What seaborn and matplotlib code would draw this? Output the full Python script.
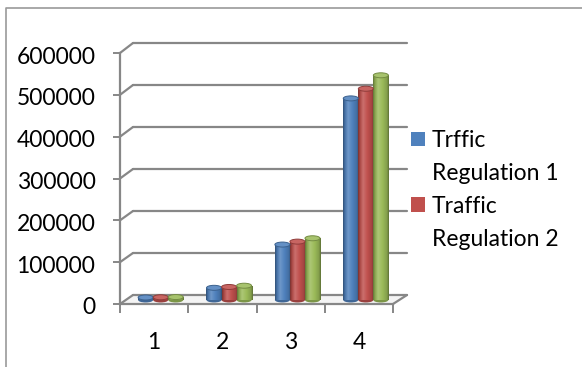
import numpy as np
import pandas as pd
import matplotlib
matplotlib.use("Agg")
import matplotlib.pyplot as plt
import seaborn as sns
from matplotlib.patches import Ellipse, Polygon, Patch
from matplotlib.lines import Line2D
from matplotlib.colors import to_rgb
from matplotlib.transforms import ScaledTranslation

# ---- data ----
categories = ["1", "2", "3", "4"]
series_labels = ["Trffic Regulation 1", "Traffic Regulation 2", "Traffic Regulation 3"]
reg1 = [6000, 29000, 132000, 480000]
reg2 = [6500, 31000, 139000, 503000]
reg3 = [7000, 34000, 147000, 535000]
y_ticks = [0, 100000, 200000, 300000, 400000, 500000, 600000]
colors = ["#4F81BD", "#C0504D", "#9BBB59"]

df = pd.DataFrame({
    "category": categories * 3,
    "series": [series_labels[0]] * 4 + [series_labels[1]] * 4 + [series_labels[2]] * 4,
    "value": reg1 + reg2 + reg3,
})

sns.set_theme(style="white")
plt.rcParams["font.family"] = ["Lato", "DejaVu Sans"]
plt.rcParams["text.color"] = "black"

GRID = "#878787"
FS = 16.5
W, H = 582, 367
fig = plt.figure(figsize=(W / 100, H / 100), dpi=100)
fig.patch.set_facecolor("white")


def box(x0, x1, y_top, y_bottom):
    return [x0 / W, 1 - y_bottom / H, (x1 - x0) / W, (y_bottom - y_top) / H]


# back wall (gridlines), middle plane (columns), front plane (axes + labels)
ax_back = fig.add_axes(box(133, 407, 43, 295))
ax_mid = fig.add_axes(box(126.5, 400, 48, 300))
ax_front = fig.add_axes(box(120, 393, 53, 304))

YMAX = y_ticks[-1]
for ax in (ax_back, ax_mid, ax_front):
    ax.set_facecolor("none")
    ax.set_xlim(-0.5, len(categories) - 0.5)
    ax.set_ylim(0, YMAX)
    for s in ax.spines.values():
        s.set_visible(False)

# back wall gridlines
ax_back.set_xticks([])
ax_back.set_yticks([])
for v in y_ticks:
    ax_back.axhline(v, color=GRID, lw=1.6, clip_on=False, zorder=0)

# columns
sns.barplot(data=df, x="category", y="value", hue="series", palette=colors,
            width=0.66, ax=ax_mid, legend=False, linewidth=0, saturation=1)
ax_mid.set_xlim(-0.5, len(categories) - 0.5)
ax_mid.set_ylim(0, YMAX)
ax_mid.set_xlabel("")
ax_mid.set_ylabel("")
ax_mid.set_xticks([])
ax_mid.set_yticks([])

px_to_data = YMAX / (ax_mid.get_position().height * H)
cap_h = 5 * px_to_data


def shade(rgb, f):
    return tuple(np.clip(np.array(rgb) * f, 0, 1))


def tint(rgb, f):
    rgb = np.array(rgb)
    return tuple(rgb + (1 - rgb) * f)


stops = [0.0, 0.12, 0.32, 0.6, 0.88, 1.0]
bars = [p for p in ax_mid.patches]
for p in bars:
    base = to_rgb(p.get_facecolor())
    x0, w, h = p.get_x(), p.get_width(), p.get_height()
    ramp = [shade(base, 0.62), shade(base, 0.88), tint(base, 0.18),
            base, shade(base, 0.85), shade(base, 0.6)]
    t = np.linspace(0, 1, 80)
    grad = np.stack([np.interp(t, stops, [c[i] for c in ramp]) for i in range(3)], axis=-1)
    # rounded bottom of the cylinder
    ax_mid.add_patch(Ellipse((x0 + w / 2, 0), w, cap_h, facecolor=shade(base, 0.8),
                             edgecolor="none", clip_on=False, zorder=2))
    img = ax_mid.imshow(grad[np.newaxis, :, :], extent=(x0, x0 + w, 0, h),
                        aspect="auto", interpolation="bilinear", zorder=3)
    img.set_clip_path(p)
    p.set_zorder(2.5)
    # top cap
    ax_mid.add_patch(Ellipse((x0 + w / 2, h), w, cap_h, facecolor=tint(base, 0.12),
                             edgecolor=shade(base, 0.75), lw=0.7, clip_on=False, zorder=4))
ax_mid.set_xlim(-0.5, len(categories) - 0.5)
ax_mid.set_ylim(0, YMAX)

# front axes: value ticks and category ticks
ax_front.spines["left"].set_visible(True)
ax_front.spines["bottom"].set_visible(True)
for s in ("left", "bottom"):
    ax_front.spines[s].set_color(GRID)
    ax_front.spines[s].set_linewidth(1.6)
ax_front.set_yticks(y_ticks)
ax_front.set_yticklabels([str(v) for v in y_ticks])
ax_front.set_xticks(np.arange(len(categories) + 1) - 0.5)
ax_front.set_xticklabels([])
ax_front.set_xticks(np.arange(len(categories)), minor=True)
ax_front.set_xticklabels(categories, minor=True)
ax_front.tick_params(axis="y", which="major", direction="out", length=4.7, width=1.4,
                     color=GRID, labelsize=FS, labelcolor="black", pad=13, left=True)
ax_front.tick_params(axis="x", which="major", direction="out", length=6.5, width=1.4,
                     color=GRID, bottom=True)
ax_front.tick_params(axis="x", which="minor", length=0, labelsize=FS,
                     labelcolor="black", pad=20)
nudge = ScaledTranslation(0, -2 / 100, fig.dpi_scale_trans)
for lab in ax_front.get_yticklabels():
    lab.set_transform(lab.get_transform() + nudge)

# side-wall edges and floor joining the front plane to the back wall
to_fig = fig.transFigure.inverted()


def fpt(ax, x, y):
    return to_fig.transform(ax.transData.transform((x, y)))


xl, xr = -0.5, len(categories) - 0.5
floor = Polygon([fpt(ax_front, xl, 0), fpt(ax_front, xr, 0),
                 fpt(ax_back, xr, 0), fpt(ax_back, xl, 0)],
                closed=True, transform=fig.transFigure, facecolor="#f4f4f4",
                edgecolor="none", zorder=-1)
fig.add_artist(floor)
for v in y_ticks:
    a, b = fpt(ax_front, xl, v), fpt(ax_back, xl, v)
    fig.add_artist(Line2D([a[0], b[0]], [a[1], b[1]], transform=fig.transFigure,
                          color=GRID, lw=1.6, zorder=-0.5))
a, b = fpt(ax_front, xr, 0), fpt(ax_back, xr, 0)
fig.add_artist(Line2D([a[0], b[0]], [a[1], b[1]], transform=fig.transFigure,
                      color=GRID, lw=1.6, zorder=-0.5))

# chart area border
fig.add_artist(Line2D([6 / W, 6 / W, 1.0], [0.0, 1 - 8 / H, 1 - 8 / H],
                      transform=fig.transFigure, color="#9a9a9a", lw=1.2))

# legend (first two series)
handles, labels = [], []
for name, col in zip(series_labels[:2], colors[:2]):
    first, rest = name.split(" ", 1)
    handles += [Patch(facecolor=col, edgecolor="none"),
                Patch(facecolor="none", edgecolor="none")]
    labels += [first, rest]
fig.legend(handles, labels, loc="upper left", bbox_to_anchor=(411 / W, 1 - 130 / H),
           frameon=False, borderpad=0, borderaxespad=0, fontsize=FS,
           handlelength=0.62, handleheight=0.62, handletextpad=0.3, labelspacing=0.52)

fig.savefig("out.png", dpi=100)
